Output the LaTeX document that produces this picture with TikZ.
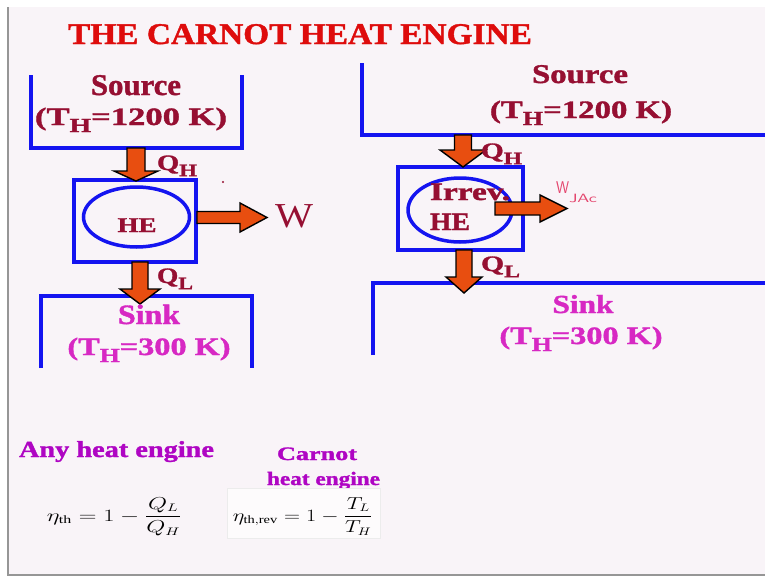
\documentclass[tikz,border=0pt]{standalone}
\usepackage{fontspec}
\setmainfont{Liberation Serif}[BoldFeatures={FakeBold=1.3}]
\usepackage{graphicx}
\usetikzlibrary{calc,shapes.geometric}
\definecolor{bgc}{RGB}{249,244,248}
\definecolor{titc}{RGB}{222,12,12}
\definecolor{marc}{RGB}{150,15,50}
\definecolor{bluc}{RGB}{20,20,240}
\definecolor{orc}{RGB}{232,78,16}
\definecolor{sinkc}{RGB}{215,40,195}
\definecolor{purc}{RGB}{175,5,195}
\definecolor{handc}{RGB}{228,70,110}
\definecolor{framec}{RGB}{150,150,150}
\newcommand\fw[2]{\resizebox{#1pt}{\height}{#2}}
\newcommand\sbx[1]{\raisebox{-0.28em}{\scalebox{0.8}{#1}}}
\newcommand\fs[1]{\fontsize{#1}{#1}\selectfont}
\newcommand\varrow[5]{\draw[barrow] ($(#1)+(-#3,0)$) -- ($(#2)+(-#3,-#5)$) -- ($(#2)+(-#4,-#5)$) -- (#2) -- ($(#2)+(#4,-#5)$) -- ($(#2)+(#3,-#5)$) -- ($(#1)+(#3,0)$) -- cycle;}
\newcommand\harrow[5]{\draw[barrow] ($(#1)+(0,-#3)$) -- ($(#2)+(-#5,-#3)$) -- ($(#2)+(-#5,-#4)$) -- (#2) -- ($(#2)+(-#5,#4)$) -- ($(#2)+(-#5,#3)$) -- ($(#1)+(0,#3)$) -- cycle;}
\tikzset{
  bline/.style={draw=bluc, line width=3.5pt},
  barrow/.style={fill=orc, draw=black, line width=1.4pt, line join=miter},
  lbl/.style={inner sep=0pt, outer sep=0pt, anchor=base},
  mar/.style={lbl, text=marc, font=\bfseries},
  engbox/.style={draw=bluc, line width=3.5pt, inner sep=0pt, minimum width=#1},
}
\begin{document}
\begin{tikzpicture}[x=1pt,y=-1pt]
\useasboundingbox (0,0) rectangle (765,576);
\fill[white] (0,0) rectangle (765,576);
\fill[bgc] (8,7) rectangle (765,575);
\draw[framec, line width=1.2pt] (8,7) -- (8,575) -- (765,575);

% title
\node[lbl, text=titc, font=\bfseries\fs{30}] (title) at (300,44) {\fw{464}{THE CARNOT HEAT ENGINE}};

% ---------- left diagram ----------
\draw[bline] (31,75) -- (31,148) -- (242,148) -- (242,75);
\draw[bline] (41,368) -- (41,296) -- (252,296) -- (252,368);
\node[engbox=122pt, minimum height=82pt] (he1) at (135,221) {};
\node[draw=bluc, line width=3.5pt, ellipse, inner sep=0pt, minimum width=106pt, minimum height=60pt] (el1) at (136.5,217) {};
\coordinate (a1s) at (136,148); \coordinate (a1e) at (136,181);
\coordinate (w1s) at (197,217.5); \coordinate (w1e) at (267,217.5);
\coordinate (b1s) at (140,262); \coordinate (b1e) at (140,304);
\varrow{a1s}{a1e}{9}{22}{10}
\harrow{w1s}{w1e}{6}{14.5}{27}
\varrow{b1s}{b1e}{8}{20}{15}

\node[mar, font=\bfseries\fs{30}] (src1) at (136,95) {\fw{90}{Source}};
\node[mar, font=\bfseries\fs{25}] (th1) at (131,125) {\fw{192}{(T\sbx{H}=1200 K)}};
\node[mar, font=\bfseries\fs{22}, anchor=base west] (qh1) at (157,170) {\fw{40}{Q\sbx{H}}};
\node[mar, font=\bfseries\fs{21}] (hel1) at (137,232) {\fw{39}{HE}};
\node[lbl, text=marc, font=\fs{35}, anchor=base west] (w1) at (275,227) {\fw{38}{W}};
\node[mar, font=\bfseries\fs{22}, anchor=base west] (ql1) at (157,283) {\fw{36}{Q\sbx{L}}};
\node[lbl, text=sinkc, font=\bfseries\fs{28}] (sk1) at (149,324) {\fw{62}{Sink}};
\node[lbl, text=sinkc, font=\bfseries\fs{25}] (tl1) at (149,355) {\fw{163}{(T\sbx{H}=300 K)}};
\fill[marc] (223,182) circle (1.2pt);

% ---------- right diagram ----------
\draw[bline] (362,63) -- (362,135) -- (765,135);
\draw[bline] (373,355) -- (373,283) -- (765,283);
\node[engbox=125pt, minimum height=83pt] (he2) at (460.5,208.5) {};
\node[draw=bluc, line width=3.5pt, ellipse, inner sep=0pt, minimum width=104pt, minimum height=64pt] (el2) at (460,210) {};
\coordinate (a2s) at (463,135); \coordinate (a2e) at (463,167);
\coordinate (w2s) at (495,208.5); \coordinate (w2e) at (567,208.5);
\coordinate (b2s) at (464,250); \coordinate (b2e) at (464,293);
\varrow{a2s}{a2e}{8.5}{23}{17}
\varrow{b2s}{b2e}{8}{18}{16}

\node[mar, font=\bfseries\fs{27}] (src2) at (580,83) {\fw{96}{Source}};
\node[mar, font=\bfseries\fs{25}] (th2) at (581,118) {\fw{182}{(T\sbx{H}=1200 K)}};
\node[mar, font=\bfseries\fs{22}, anchor=base west] (qh2) at (481,158) {\fw{41}{Q\sbx{H}}};
\node[mar, font=\bfseries\fs{25}, anchor=base west] (irr) at (430,200) {\fw{80}{Irrev.}};
\node[mar, font=\bfseries\fs{25}, anchor=base west] (hel2) at (430,230) {\fw{40}{HE}};
\harrow{w2s}{w2e}{6.5}{13.5}{27}
\node[lbl, text=handc, font=\sffamily\fs{17}, anchor=base west] (wj) at (556,193) {\fw{13}{W}\raisebox{-9pt}{\fs{12}\fw{28}{JAc}}};
\node[mar, font=\bfseries\fs{22}, anchor=base west] (ql2) at (481,271) {\fw{39}{Q\sbx{L}}};
\node[lbl, text=sinkc, font=\bfseries\fs{26}] (sk2) at (583,313) {\fw{61}{Sink}};
\node[lbl, text=sinkc, font=\bfseries\fs{25}] (tl2) at (581,344) {\fw{163}{(T\sbx{H}=300 K)}};

% ---------- bottom ----------
\node[lbl, text=purc, font=\bfseries\fs{23}] (any) at (116.5,457) {\fw{195}{Any heat engine}};
\node[lbl, text=purc, font=\bfseries\fs{19}] (car) at (317,460) {\fw{80}{Carnot}};
\node[lbl, text=purc, font=\bfseries\fs{19}] (che) at (323.5,485) {\fw{113}{heat engine}};
\node[lbl, font=\fs{16}] (f1) at (114.5,521) {\fw{135}{$\displaystyle\eta_{\mathrm{th}} = 1 - \frac{Q_L}{Q_H}$}};
\draw[gray!15, fill=white!60!bgc] (227,488) rectangle (380,538);
\node[lbl, font=\fs{16}] (f2) at (303,521) {\fw{140}{$\displaystyle\eta_{\mathrm{th,rev}} = 1 - \frac{T_L}{T_H}$}};
\end{tikzpicture}
\end{document}
